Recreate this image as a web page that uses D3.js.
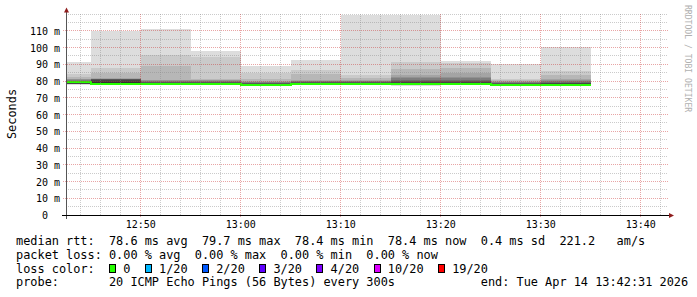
<!DOCTYPE html>
<html><head><meta charset="utf-8">
<script src="https://cdn.jsdelivr.net/npm/d3@7"></script>
<style>html,body{margin:0;padding:0;background:#fff;} svg{display:block;}</style>
</head><body><svg id="c" width="697" height="297"></svg>
<script>
// ---------- data ----------
const intervalEnds = ["12:45","12:50","12:55","13:00","13:05","13:10","13:15","13:20","13:25","13:30","13:35"];
const medianRtt = [79.5,78.4,78.4,78.4,77.9,78.4,78.4,78.4,78.4,77.9,77.9];
// 20 sorted ping round-trip times (ms) per 5-minute step
const p1245 = [77.9,78.1,78.2,78.3,78.3,78.3,78.3,78.3,78.4,79.5,79.7,79.8,80.0,80.2,80.5,81.0,81.4,82.6,84.0,91.3];
const p1250 = [78.0,78.2,78.3,78.3,78.3,78.4,78.4,78.4,78.4,78.4,79.5,80.5,81.0,81.1,81.2,81.4,81.6,85.0,87.9,109.8];
const p1255 = [77.9,78.1,78.2,78.3,78.3,78.3,78.4,78.4,78.4,78.4,78.8,79.1,79.4,79.7,80.0,80.3,80.6,89.0,95.5,111.0];
const p1300 = [77.9,78.1,78.2,78.3,78.3,78.3,78.4,78.4,78.4,78.4,78.8,79.1,79.4,79.7,80.0,80.3,80.6,81.0,94.1,98.0];
const p1305 = [77.5,77.6,77.7,77.8,77.8,77.8,77.9,77.9,77.9,77.9,78.1,78.4,78.7,79.0,79.2,79.5,79.8,81.0,84.6,89.2];
const p1310 = [78.0,78.1,78.2,78.3,78.3,78.3,78.4,78.4,78.4,78.4,78.6,78.9,79.2,79.5,79.8,80.2,80.6,84.0,86.6,92.7];
const p1315 = [77.8,78.0,78.2,78.3,78.3,78.3,78.4,78.4,78.4,78.4,78.6,78.9,79.2,79.5,79.8,80.2,80.6,82.0,83.6,119.6];
const p1320 = [77.2,77.6,77.9,78.1,78.2,78.3,78.3,78.4,78.4,78.4,79.0,79.5,80.0,80.8,81.5,82.5,83.8,87.2,91.2,119.6];
const p1325 = [77.5,77.9,78.1,78.2,78.3,78.3,78.4,78.4,78.4,78.4,79.0,79.5,80.0,80.8,81.5,82.6,85.0,87.6,90.5,91.9];
const p1330 = [77.5,77.6,77.7,77.8,77.8,77.8,77.9,77.9,77.9,77.9,78.1,78.4,78.7,79.0,79.2,79.5,80.0,80.5,81.2,90.1];
const p1335 = [77.5,77.6,77.7,77.8,77.8,77.8,77.9,77.9,77.9,77.9,78.3,78.7,79.0,79.5,80.0,80.5,81.0,83.8,86.0,100.3];
const pingSets = [p1245,p1250,p1255,p1300,p1305,p1310,p1315,p1320,p1325,p1330,p1335];

const xTickLabels = ["12:50","13:00","13:10","13:20","13:30","13:40"];
const yTickValues = [0,10,20,30,40,50,60,70,80,90,100,110];
const yUnit = "m";
const lossLabels = ["0","1/20","2/20","3/20","4/20","10/20","19/20"];
const lossColors = ["#26ff00","#00b8ff","#0059ff","#5e00ff","#7e00ff","#dd00ff","#ff0000"];
const legendRtt = "median rtt:  78.6 ms avg  79.7 ms max  78.4 ms min  78.4 ms now  0.4 ms sd  221.2   am/s";
const legendLoss = "packet loss: 0.00 % avg  0.00 % max  0.00 % min  0.00 % now";
const legendProbe = "probe:       20 ICMP Echo Pings (56 Bytes) every 300s";
const legendEnd = "end: Tue Apr 14 13:42:31 2026";
const yTitle = "Seconds";
const watermark = "RRDTOOL / TOBI OETIKER";
const startTime = "12:42:31", endTime = "13:42:31";

// ---------- drawing ----------
const svg = d3.select("#c");
const mono = "'DejaVu Sans Mono', monospace";
const pT = d3.utcParse("%H:%M:%S"), pM = d3.utcParse("%H:%M");
const t0 = pT(startTime), t1 = pT(endTime);
const x = d3.scaleUtc().domain([t0, t1]).range([66, 666]);
const y = d3.scaleLinear().domain([0, 120]).range([215, 14]);
const px = v => Math.floor(v) + 0.5;

// smoke
const shade = i => { const c = Math.floor(190 / 10 * (10 - i)) + 50; return d3.rgb(c, c, c).formatHex(); };
const gSmoke = svg.append("g").attr("shape-rendering", "crispEdges");
pingSets.forEach((p, k) => {
  const e = pM(intervalEnds[k]);
  const s = new Date(Math.max(+t0, +d3.utcMinute.offset(e, -5)));
  for (let i = 1; i <= 10; i++) {
    const lo = p[i - 1], hi = p[20 - i];
    gSmoke.append("rect")
      .attr("x", Math.round(x(s))).attr("width", Math.round(x(e)) - Math.round(x(s)))
      .attr("y", Math.round(y(hi))).attr("height", Math.max(1, Math.round(y(lo)) - Math.round(y(hi))))
      .attr("fill", shade(i));
  }
});

// median line
const medPts = intervalEnds.map((t, k) => {
  const e = pM(t);
  return [new Date(Math.max(+t0, +d3.utcMinute.offset(e, -5))), medianRtt[k]];
});
medPts.push([pM(intervalEnds[intervalEnds.length - 1]), medianRtt[medianRtt.length - 1]]);
svg.append("path")
  .attr("d", d3.line().x(d => Math.round(x(d[0]))).y(d => Math.round(y(d[1]))).curve(d3.curveStepAfter)(medPts))
  .attr("fill", "none").attr("stroke", lossColors[0]).attr("stroke-width", 2)
  .attr("shape-rendering", "crispEdges");

// grid
const gGrid = svg.append("g").attr("shape-rendering", "crispEdges").attr("stroke-dasharray", "1,1");
const minorCol = "rgba(140,140,140,0.45)", majorCol = "rgba(200,40,40,0.42)";
d3.utcMinute.every(2).range(t0, t1).forEach(t => {
  if (t.getUTCMinutes() % 10 === 0) return;
  gGrid.append("line").attr("x1", px(x(t))).attr("x2", px(x(t))).attr("y1", 14).attr("y2", 215).attr("stroke", minorCol);
});
d3.range(5, 121, 5).forEach(v => {
  if (v % 10 === 0 && v <= 110) return;
  gGrid.append("line").attr("x1", 66).attr("x2", 668).attr("y1", px(y(v))).attr("y2", px(y(v))).attr("stroke", minorCol);
});
d3.utcMinute.every(10).range(t0, t1).forEach(t => {
  gGrid.append("line").attr("x1", px(x(t))).attr("x2", px(x(t))).attr("y1", 14).attr("y2", 218).attr("stroke", majorCol);
});
yTickValues.filter(v => v > 0).forEach(v => {
  gGrid.append("line").attr("x1", 63).attr("x2", 668).attr("y1", px(y(v))).attr("y2", px(y(v))).attr("stroke", majorCol);
});

// axes
const gAx = svg.append("g").attr("shape-rendering", "crispEdges");
gAx.append("line").attr("x1", 66.5).attr("x2", 66.5).attr("y1", 12).attr("y2", 219).attr("stroke", "#555");
gAx.append("line").attr("x1", 62).attr("x2", 670).attr("y1", 215.5).attr("y2", 215.5).attr("stroke", "#000");
svg.append("path").attr("d", "M64,12.5 L69,12.5 L66.5,7.5 Z").attr("fill", "#8f1d1d");
svg.append("path").attr("d", "M669,213 L669,218 L674,215.5 Z").attr("fill", "#8f1d1d");

// axis labels
d3.utcMinute.every(10).range(t0, t1).forEach((t, i) => {
  svg.append("text").attr("x", x(t)).attr("y", 228).attr("text-anchor", "middle")
    .attr("font-family", mono).attr("font-size", "10px").attr("fill", "#000").text(xTickLabels[i]);
});
yTickValues.forEach(v => {
  svg.append("text").attr("x", v === 0 ? 48 : 60).attr("y", y(v) + 4).attr("text-anchor", "end")
    .attr("font-family", mono).attr("font-size", "10px").attr("fill", "#000")
    .text(v === 0 ? "0" : v + " " + yUnit);
});
svg.append("text").attr("transform", "translate(15.5,114) rotate(-90)").attr("text-anchor", "middle")
  .attr("font-family", mono).attr("font-size", "11.9px").attr("fill", "#000").text(yTitle);
svg.append("text").attr("transform", "translate(685,5) rotate(90)").attr("text-anchor", "start")
  .attr("font-family", mono).attr("font-size", "8.1px").attr("fill", "#b0b0b0").text(watermark);

// legend (monospace columns)
const adv = 7.15, lx = 16;
function monoLine(str, baseline, col0 = 0) {
  const re = /\S+/g; let m;
  while ((m = re.exec(str)) !== null) {
    svg.append("text").attr("x", lx + (col0 + m.index) * adv).attr("y", baseline)
      .attr("font-family", mono).attr("font-size", "11.9px").attr("fill", "#000").text(m[0]);
  }
}
monoLine(legendRtt, 245);
monoLine(legendLoss, 258.8);
monoLine("loss color:", 272.6);
let col = 13;
lossLabels.forEach((lab, i) => {
  svg.append("rect").attr("x", lx + col * adv + 0.5).attr("y", 264.5).attr("width", 6).attr("height", 8)
    .attr("fill", lossColors[i]).attr("stroke", "#000").attr("stroke-width", 1).attr("shape-rendering", "crispEdges");
  monoLine(lab, 272.6, col + 2);
  col += 2 + lab.length + 2;
});
monoLine(legendProbe, 286.4);
monoLine(legendEnd, 286.4, 65);
</script></body></html>
